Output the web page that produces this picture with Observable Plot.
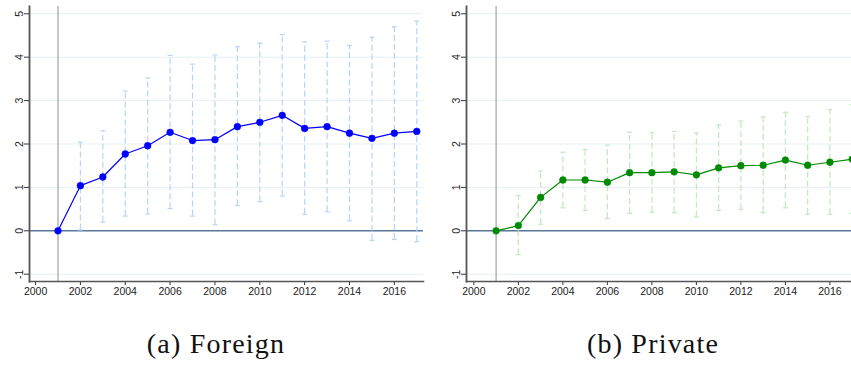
<!DOCTYPE html>
<html>
<head>
<meta charset="utf-8">
<script src="https://cdn.jsdelivr.net/npm/d3@7"></script>
<script src="https://cdn.jsdelivr.net/npm/@observablehq/plot@0.6"></script>
<style>
  html, body { margin: 0; padding: 0; background: #fff; }
  #wrap { position: relative; width: 851px; height: 365px; overflow: hidden; }
  .panel { position: absolute; top: 0; }
  .cap { position: absolute; top: 330px; font-family: "Liberation Serif", "DejaVu Serif", serif; font-size: 28px; line-height: 28px; letter-spacing: 1.2px; white-space: nowrap; transform: translateX(-50%); color: #111; }
</style>
</head>
<body>
<div id="wrap"></div>
<script>
// ---- data ----
const years = [2001, 2002, 2003, 2004, 2005, 2006, 2007, 2008, 2009, 2010, 2011, 2012, 2013, 2014, 2015, 2016, 2017];
const foreignEst = [0, 1.04, 1.24, 1.77, 1.96, 2.27, 2.08, 2.10, 2.40, 2.50, 2.66, 2.36, 2.40, 2.25, 2.13, 2.25, 2.29];
const foreignLo  = [null, 0.02, 0.20, 0.34, 0.39, 0.51, 0.34, 0.14, 0.58, 0.67, 0.80, 0.38, 0.44, 0.23, -0.22, -0.20, -0.25];
const foreignHi  = [null, 2.04, 2.30, 3.22, 3.52, 4.04, 3.84, 4.05, 4.24, 4.32, 4.52, 4.35, 4.37, 4.27, 4.46, 4.70, 4.83];
const privateEst = [0, 0.12, 0.77, 1.17, 1.17, 1.12, 1.34, 1.34, 1.36, 1.29, 1.45, 1.50, 1.51, 1.63, 1.51, 1.58, 1.65];
const privateLo  = [null, -0.55, 0.15, 0.53, 0.47, 0.28, 0.40, 0.43, 0.42, 0.32, 0.47, 0.49, 0.42, 0.53, 0.38, 0.38, 0.40];
const privateHi  = [null, 0.81, 1.38, 1.81, 1.87, 1.97, 2.27, 2.26, 2.29, 2.25, 2.44, 2.53, 2.62, 2.73, 2.63, 2.79, 2.90];
const yTicks = [-1, 0, 1, 2, 3, 4, 5];
const xTicks = [2000, 2002, 2004, 2006, 2008, 2010, 2012, 2014, 2016];
const captions = ["(a) Foreign", "(b) Private"];
const eventYear = 2001;

function rows(est, lo, hi) {
  return years.map((yr, i) => ({year: yr, est: est[i], lo: lo[i], hi: hi[i]}));
}

function panel({data, width, marginLeft, marginRight, xDomain, color, ciColor}) {
  const ci = data.filter(d => d.lo != null);
  const capW = 0.11;
  return Plot.plot({
    width, height: 300,
    marginLeft, marginRight, marginTop: 6, marginBottom: 19,
    style: {background: "transparent", fontFamily: "'Liberation Sans', Arial, sans-serif", fontSize: "10.5px", color: "#222", overflow: "visible"},
    x: {domain: xDomain, ticks: xTicks, tickFormat: d => String(d), tickSize: 4, tickPadding: 2, label: null},
    y: {domain: [-1.168, 5.168], ticks: yTicks, tickFormat: d => String(d), label: null},
    marks: [
      Plot.gridY(yTicks, {stroke: "#e6eff2", strokeOpacity: 1, strokeWidth: 1}),
      Plot.ruleY([0], {stroke: "#58799a", strokeWidth: 1.6}),
      Plot.ruleX([eventYear], {stroke: "#9a9a9a", strokeWidth: 1.1}),
      Plot.ruleX(ci, {x: "year", y1: "lo", y2: "hi", stroke: ciColor, strokeWidth: 1.2, strokeDasharray: "6,3"}),
      Plot.link(ci, {x1: d => d.year - capW, x2: d => d.year + capW, y1: "hi", y2: "hi", stroke: ciColor, strokeWidth: 1.2}),
      Plot.link(ci, {x1: d => d.year - capW, x2: d => d.year + capW, y1: "lo", y2: "lo", stroke: ciColor, strokeWidth: 1.2}),
      Plot.line(data, {x: "year", y: "est", stroke: color, strokeWidth: 1.2}),
      Plot.dot(data, {x: "year", y: "est", r: 3.4, fill: color, stroke: color, strokeWidth: 0.5}),
      Plot.axisY({ticks: yTicks, tickFormat: d => String(d), tickRotate: -90, tickSize: 5, tickPadding: 2, stroke: "#333", fontSize: "10.5px"}),
      Plot.axisX({ticks: xTicks, tickFormat: d => String(d), tickSize: 4, tickPadding: 2, stroke: "#333", fontSize: "10.5px"}),
      Plot.frame({anchor: "left", stroke: "#555", strokeWidth: 1.8}),
      Plot.frame({anchor: "bottom", stroke: "#555", strokeWidth: 1.6})
    ]
  });
}

const wrap = document.getElementById("wrap");
const left = panel({
  data: rows(foreignEst, foreignLo, foreignHi), width: 425, marginLeft: 29, marginRight: 2,
  xDomain: [1999.73, 2017.3], color: "#0000ff", ciColor: "#b5d5f8"
});
const right = panel({
  data: rows(privateEst, privateLo, privateHi), width: 426, marginLeft: 41, marginRight: 0,
  xDomain: [1999.67, 2016.97], color: "#008a00", ciColor: "#bfe9bf"
});
const l = document.createElement("div"); l.className = "panel"; l.style.left = "0px"; l.appendChild(left);
const r = document.createElement("div"); r.className = "panel"; r.style.left = "425px"; r.appendChild(right);
wrap.appendChild(l); wrap.appendChild(r);
[[captions[0], 216], [captions[1], 653]].forEach(([t, cx]) => {
  const c = document.createElement("div"); c.className = "cap"; c.style.left = cx + "px"; c.textContent = t;
  wrap.appendChild(c);
});
</script>
</body>
</html>
